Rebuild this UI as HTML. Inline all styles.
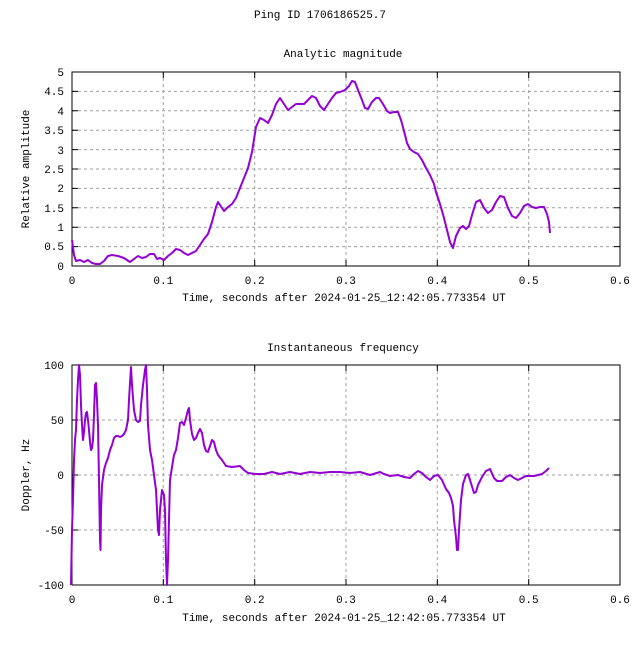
<!DOCTYPE html><html><head><style>body{margin:0;background:#fff}svg text{font-family:"Liberation Mono",monospace;font-size:11px;fill:#000}</style></head><body>
<svg width="640" height="640" viewBox="0 0 640 640" xmlns="http://www.w3.org/2000/svg">
<rect width="640" height="640" fill="#fff"/>
<text x="320" y="18" text-anchor="middle">Ping ID 1706186525.7</text>
<text x="343" y="57" text-anchor="middle">Analytic magnitude</text>
<text x="343" y="351" text-anchor="middle">Instantaneous frequency</text>
<g stroke="#a0a0a0" stroke-width="1" stroke-dasharray="3,3" fill="none">
<path d="M72,246.6H620M72,227.2H620M72,207.8H620M72,188.4H620M72,169H620M72,149.6H620M72,130.2H620M72,110.8H620M72,91.4H620"/>
<path d="M163.3,72V266M254.7,72V266M346,72V266M437.3,72V266M528.7,72V266"/>
<path d="M72,530H620M72,475H620M72,420H620"/>
<path d="M163.3,365V585M254.7,365V585M346,365V585M437.3,365V585M528.7,365V585"/>
</g>
<g stroke="#000" stroke-width="1" fill="none">
<rect x="72" y="72" width="548" height="194"/>
<rect x="72" y="365" width="548" height="220"/>
<path d="M72,246.6h6M72,227.2h6M72,207.8h6M72,188.4h6M72,169h6M72,149.6h6M72,130.2h6M72,110.8h6M72,91.4h6M620,246.6h-6M620,227.2h-6M620,207.8h-6M620,188.4h-6M620,169h-6M620,149.6h-6M620,130.2h-6M620,110.8h-6M620,91.4h-6"/>
<path d="M163.3,266v-6M254.7,266v-6M346,266v-6M437.3,266v-6M528.7,266v-6M163.3,72v6M254.7,72v6M346,72v6M437.3,72v6M528.7,72v6"/>
<path d="M72,530h6M72,475h6M72,420h6M620,530h-6M620,475h-6M620,420h-6"/>
<path d="M163.3,585v-6M254.7,585v-6M346,585v-6M437.3,585v-6M528.7,585v-6M163.3,365v6M254.7,365v6M346,365v6M437.3,365v6M528.7,365v6"/>
</g>
<g text-anchor="end">
<text x="64" y="270">0</text><text x="64" y="250">0.5</text><text x="64" y="231">1</text><text x="64" y="212">1.5</text><text x="64" y="192">2</text><text x="64" y="173">2.5</text><text x="64" y="154">3</text><text x="64" y="134">3.5</text><text x="64" y="115">4</text><text x="64" y="95">4.5</text><text x="64" y="76">5</text>
<text x="64" y="589">-100</text><text x="64" y="534">-50</text><text x="64" y="479">0</text><text x="64" y="424">50</text><text x="64" y="369">100</text>
</g>
<g text-anchor="middle">
<text x="72" y="284">0</text><text x="163.3" y="284">0.1</text><text x="254.7" y="284">0.2</text><text x="346" y="284">0.3</text><text x="437.3" y="284">0.4</text><text x="528.7" y="284">0.5</text><text x="620" y="284">0.6</text>
<text x="72" y="603">0</text><text x="163.3" y="603">0.1</text><text x="254.7" y="603">0.2</text><text x="346" y="603">0.3</text><text x="437.3" y="603">0.4</text><text x="528.7" y="603">0.5</text><text x="620" y="603">0.6</text>
<text x="344" y="301">Time, seconds after 2024-01-25_12:42:05.773354 UT</text>
<text x="344" y="621">Time, seconds after 2024-01-25_12:42:05.773354 UT</text>
<text transform="translate(29,169) rotate(-90)">Relative amplitude</text>
<text transform="translate(29,475) rotate(-90)">Doppler, Hz</text>
</g>
<g fill="none" stroke="#9400d3" stroke-width="2" stroke-linejoin="round">
<polyline points="72,240 74,255 76,261 80,260 84,262 88,260 92,263 96,264 100,264 104,261 108,256 112,255 118,256 124,258 130,262 134,259 138,256 142,258 146,257 150,254 154,254 157,259 160,258 164,260 168,256 172,253 176,249 180,250 184,253 188,255 192,253 196,251 200,245 204,239 208,234 212,222 216,207 218,202 220,205 224,211 228,207 232,204 236,198 240,188 244,178 248,168 252,152 256,127 260,118 264,120 268,123 272,115 276,104 280,98 284,104 288,110 292,107 296,104 300,104 304,104 308,100 312,96 316,98 320,106 324,110 328,104 332,98 336,93 340,92 345,90 349,86 352,81 355,82 358,90 362,100 365,108 368,109 372,102 376,98 379,98 383,104 387,111 390,113 394,112 398,112 401,120 404,131 407,143 410,149 414,152 418,154 422,160 426,168 430,175 434,184 436,192 440,204 444,218 447,230 450,242 453,248 456,236 460,228 463,226 466,229 469,226 472,215 476,202 480,200 484,208 488,213 492,210 496,202 500,196 504,197 508,208 512,216 516,218 520,213 524,206 528,204 532,207 536,208 540,207 544,207 547,214 549,222 550,233"/>
<polyline points="71,585 72,530 73,500 74,460 75,440 76,430 77,400 78,380 79,365 80,375 81,405 82,425 83,440 84,432 85,420 86,413 87,412 88,420 89,430 90,442 91,450 92,448 93,440 94,415 95,385 96,383 97,400 98,425 99,480 100,540 100.5,550 101,510 102,485 104,470 106,463 108,458 110,450 112,445 114,438 116,436 118,436 120,437 122,436 124,434 126,430 128,420 129,400 130,383 131,367 132,385 134,410 136,420 138,422 140,421 141,405 143,385 145,370 146,365 147,390 148,425 150,450 152,460 154,475 156,490 157,510 158,530 159,535 160,510 162,490 164,495 165,510 166,560 167,585 168,560 169,520 170,480 172,467 174,455 176,450 178,438 180,423 182,422 184,425 186,418 188,410 189,408 190,420 192,434 194,440 196,438 198,433 200,429 202,433 204,445 206,451 208,452 210,446 212,440 214,442 216,450 218,455 222,460 226,466 232,467 240,466 244,470 248,473 256,474 264,474 272,472 280,474 290,472 300,474 310,472 320,473 330,472 340,472 350,473 360,472 370,475 380,472 384,474 390,476 398,475 404,477 410,478 414,474 418,471 422,473 426,477 430,480 434,476 438,475 442,480 446,489 449,493 451,498 453,506 454,520 456,537 457,550 458,550 459,530 461,500 463,484 466,475 468,474 470,480 474,493 476,492 478,485 482,477 486,471 490,469 494,478 497,481 502,481 506,477 510,475 514,478 518,480 522,478 526,476 530,476 534,476 538,475 542,474 546,471 549,468"/>
</g>
</svg>
</body></html>
